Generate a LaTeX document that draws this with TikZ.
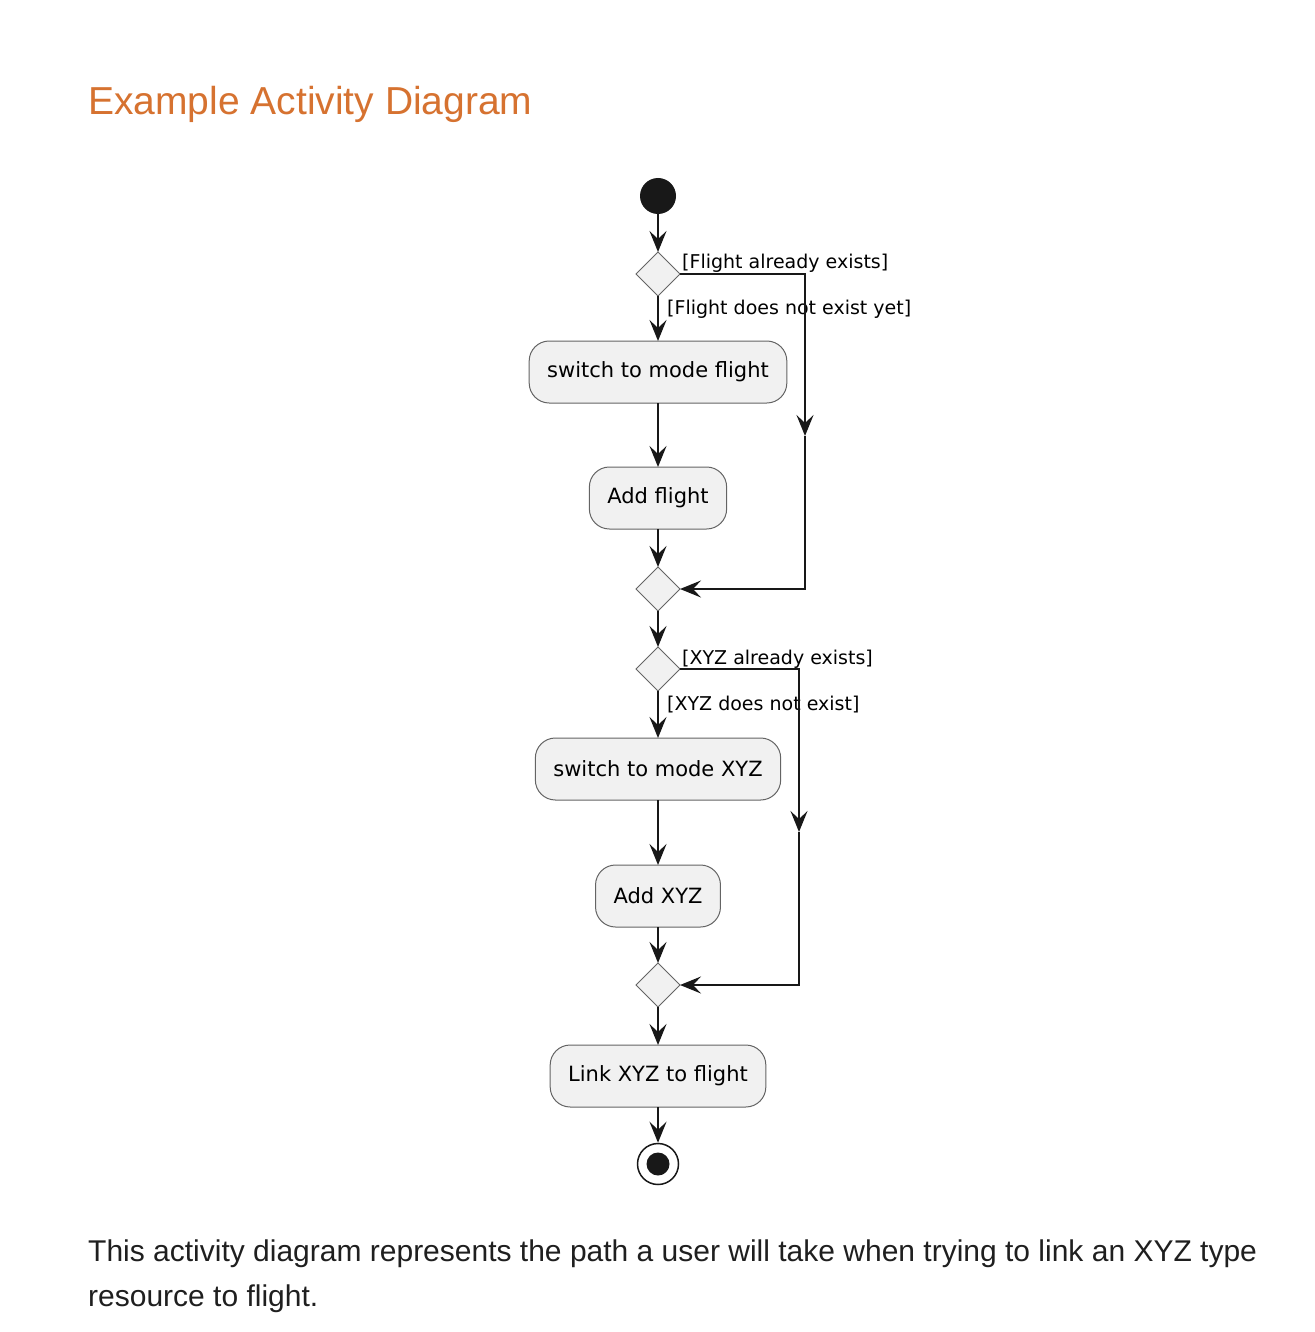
\documentclass[tikz,border=0pt]{standalone}
\usepackage{fontspec}
\setmainfont{Liberation Sans}
\newfontfamily\umlfont{DejaVu Sans}
\usepackage{xcolor}
\usepackage{tikz}
\usetikzlibrary{shapes.geometric,positioning,calc}
\usetikzlibrary{arrows.meta}
\definecolor{titleorange}{RGB}{214,114,48}
\definecolor{umlline}{RGB}{24,24,24}
\definecolor{umlfill}{RGB}{241,241,241}
\definecolor{umlborder}{RGB}{100,100,100}
\tikzstyle{activity} = [rectangle, rounded corners=20pt, draw=umlborder, line width=1pt, fill=umlfill, text centered, minimum height=62pt, inner xsep=18pt, outer sep=0pt, font=\umlfont\fontsize{21}{25}\selectfont]
\tikzstyle{branch} = [diamond, draw=umlborder, line width=1pt, fill=umlfill, minimum size=44pt, inner sep=0pt, outer sep=0pt]
\tikzstyle{guard} = [anchor=west, inner sep=0pt, font=\umlfont\fontsize{19}{22}\selectfont]
\tikzset{flow/.style={draw=umlline, line width=2pt, -{Stealth[length=21pt,width=17pt,inset=8pt]}}}
\tikzset{>=latex}

\begin{document}
\begin{tikzpicture}[x=1pt,y=-1pt]
				\useasboundingbox (0,0) rectangle (1314,1332);
				% heading and caption
				\node[anchor=west, inner sep=0pt, text=titleorange, font=\fontsize{39}{45}\selectfont] (title) at (88,104) {Example Activity Diagram};
				\node[anchor=north west, inner sep=0pt, align=left, text=black!88, font=\fontsize{30}{45}\selectfont] (caption) at (88,1240) {This activity diagram represents the path a user will take when trying to link an XYZ type\\resource to flight.};
				% start and first decision
				\node[circle, fill=umlline, minimum size=36pt, inner sep=0pt] (start) at (658,196) {};
				\node[branch] (d1) at (658,274) {};
				\node[activity] (sflight) at (658,372) {switch to mode flight};
				\node[activity] (aflight) at (658,498) {Add flight};
				\node[branch] (d2) at (658,589) {};
				% second decision
				\node[branch] (d3) at (658,669) {};
				\node[activity] (sxyz) at (658,769) {switch to mode XYZ};
				\node[activity] (axyz) at (658,896) {Add XYZ};
				\node[branch] (d4) at (658,985) {};
				\node[activity] (link) at (658,1076) {Link XYZ to flight};
				% end
				\node[circle, draw=umlline, line width=1.5pt, fill=white, minimum size=41pt, inner sep=0pt] (stop) at (658,1164) {};
				\node[circle, fill=umlline, minimum size=23pt, inner sep=0pt] at (stop) {};
				% guards
				\node[guard] (g1) at (682,263) {[Flight already exists]};
				\node[guard] (g2) at (667,309) {[Flight does not exist yet]};
				\node[guard] (g3) at (682,659) {[XYZ already exists]};
				\node[guard] (g4) at (667,705) {[XYZ does not exist]};
				% bypass corners
				\coordinate (c1) at (805,274);
				\coordinate (m1) at (805,436);
				\coordinate (e1) at (805,589);
				\coordinate (c2) at (799,669);
				\coordinate (m2) at (799,832);
				\coordinate (e2) at (799,985);
				% main flow
				\draw[flow] (start) -- (d1.north);
				\draw[flow] (d1.south) -- (sflight.north);
				\draw[flow] (sflight.south) -- (aflight.north);
				\draw[flow] (aflight.south) -- (d2.north);
				\draw[flow] (d2.south) -- (d3.north);
				\draw[flow] (d3.south) -- (sxyz.north);
				\draw[flow] (sxyz.south) -- (axyz.north);
				\draw[flow] (axyz.south) -- (d4.north);
				\draw[flow] (d4.south) -- (link.north);
				\draw[flow] (link.south) -- (stop.north);
				% bypass flow
				\draw[flow] (d1.east) -- (c1) -- (m1);
				\draw[flow] (m1) -- (e1) -- (d2.east);
				\draw[flow] (d3.east) -- (c2) -- (m2);
				\draw[flow] (m2) -- (e2) -- (d4.east);
			\end{tikzpicture}
\end{document}
